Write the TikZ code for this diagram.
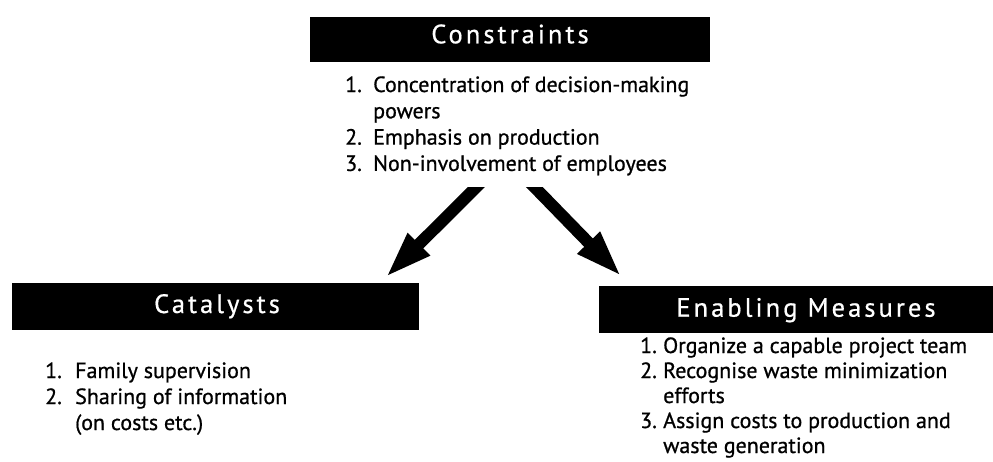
\documentclass[tikz,border=0pt]{standalone}
\usepackage{fontspec}
\setmainfont{PT Sans}[FakeBold=0.8]
\newfontfamily\titlefont{PT Sans}[LetterSpace=11.5,FakeBold=0.6]
\usetikzlibrary{arrows.meta}
\begin{document}
\begin{tikzpicture}[x=1pt,y=-1pt,
  headbox/.style={fill=black,draw=none,inner sep=0pt,rectangle},
  headtext/.style={text=white,inner sep=0pt,anchor=base,font=\titlefont\fontsize{26.5}{30}\selectfont},
  listtext/.style={inner sep=0pt,anchor=base west,text=black},
  bigarrow/.style={line width=12pt,-{Triangle[length=48pt,width=28pt]}}
]
\useasboundingbox (0,0) rectangle (993,461);
\fill[white] (0,0) rectangle (993,461);

% Constraints
\node[headbox,minimum width=400pt,minimum height=45pt] (cbox) at (510,39.5) {};
\node[headtext] (ctitle) at (510,43.3) {Constraints};
\node[listtext] (clist) at (345,92) {\fontsize{22}{26.3}\selectfont
  \begin{tabular}[t]{@{}p{28pt}@{}l@{}}
  1. & Concentration of decision-making\\
     & powers\\
  2. & Emphasis on production\\
  3. & Non-involvement of employees
  \end{tabular}};

% Catalysts
\node[headbox,minimum width=407pt,minimum height=47pt] (kbox) at (215.5,306.5) {};
\node[headtext] (ktitle) at (217,313) {Catalysts};
\node[listtext] (klist) at (45,378) {\fontsize{22}{26}\selectfont
  \begin{tabular}[t]{@{}p{30pt}@{}l@{}}
  1. & Family supervision\\
  2. & Sharing of information\\
     & (on costs etc.)
  \end{tabular}};

% Enabling Measures
\node[headbox,minimum width=400pt,minimum height=47pt] (ebox) at (799,309.5) {};
\node[headtext] (etitle) at (806,316.7) {Enabling Measures};
\node[listtext] (elist) at (640,353) {\fontsize{22}{25}\selectfont
  \begin{tabular}[t]{@{}p{23pt}@{}l@{}}
  1. & Organize a capable project team\\
  2. & Recognise waste minimization\\
     & efforts\\
  3. & Assign costs to production and\\
     & waste generation
  \end{tabular}};

% arrows
\coordinate (lt) at (481.5,182);
\coordinate (lh) at (385,278);
\coordinate (rt) at (529.5,182);
\coordinate (rh) at (622,277);
\begin{scope}
  \clip (300,187) rectangle (700,300);
  \draw[bigarrow] (lt) -- (lh);
  \draw[bigarrow] (rt) -- (rh);
\end{scope}
\end{tikzpicture}
\end{document}
